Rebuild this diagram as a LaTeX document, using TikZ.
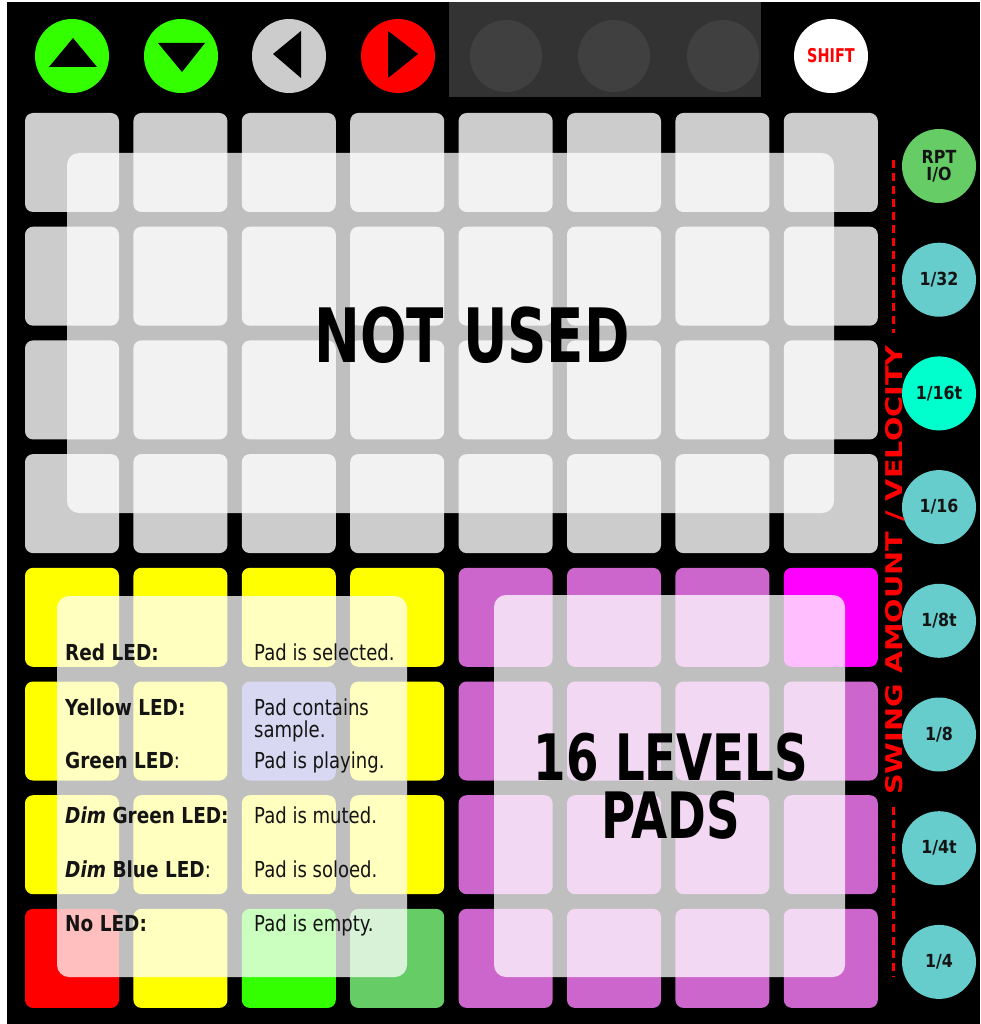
\documentclass[tikz,border=0pt]{standalone}
\usepackage{fontspec}
\setmainfont{DejaVu Sans}
\newfontfamily\bigfont{DejaVu Sans}[FakeStretch=0.73]
\newfontfamily\legR{DejaVu Sans}[FakeStretch=0.82]
\newfontfamily\legB{DejaVu Sans}[FakeStretch=0.84]
\newfontfamily\btnfont{DejaVu Sans}[FakeStretch=0.88]
\newfontfamily\shiftfont{DejaVu Sans}[FakeStretch=0.76]
\newfontfamily\vertfont{DejaVu Sans}[FakeStretch=1.25]
\definecolor{lpgray}{RGB}{204,204,204}
\definecolor{lpyellow}{RGB}{255,255,0}
\definecolor{lpgreen}{RGB}{51,255,0}
\definecolor{lpdimgreen}{RGB}{102,204,102}
\definecolor{lpred}{RGB}{255,0,0}
\definecolor{lppurple}{RGB}{204,102,204}
\definecolor{lpmagenta}{RGB}{255,0,255}
\definecolor{lpblue}{RGB}{102,102,204}
\definecolor{lpteal}{RGB}{102,204,204}
\definecolor{lpaqua}{RGB}{0,255,204}
\definecolor{lppanel}{RGB}{51,51,51}
\definecolor{lpghost}{RGB}{64,64,64}
\definecolor{lptext}{RGB}{20,20,20}
\tikzset{
  pad/.style={rectangle, rounded corners=8pt, minimum width=94pt, minimum height=99pt, inner sep=0pt, draw=none},
  topbtn/.style={circle, minimum size=74pt, inner sep=0pt, draw=none},
  sidebtn/.style={circle, minimum size=74pt, inner sep=0pt, draw=none, text=lptext,
    font=\btnfont\bfseries\fontsize{18}{19}\selectfont, align=center},
  veil/.style={fill=white, fill opacity=0.75, rounded corners=12pt},
  legleft/.style={anchor=base west, inner sep=0pt, text=lptext, font=\legB\bfseries\fontsize{22}{22}\selectfont},
  legright/.style={anchor=base west, inner sep=0pt, text=lptext, font=\legR\fontsize{22}{22}\selectfont},
  bigtext/.style={anchor=base, inner sep=0pt, text=black, font=\bigfont\bfseries\fontsize{75}{75}\selectfont},
  midtext/.style={anchor=base, inner sep=0pt, text=black, font=\bigfont\bfseries\fontsize{64}{64}\selectfont},
  reddash/.style={draw=red, dash pattern=on 8pt off 5pt, line width=3pt}
}
\begin{document}
\begin{tikzpicture}[x=1pt,y=-1pt]
\useasboundingbox (0,0) rectangle (980,1024);
\fill[white] (0,0) rectangle (980,1024);
\fill[black] (7,2) rectangle (980,1024);

% top control row
\node[topbtn, fill=lpgreen] (up) at (72,56) {};
\fill[black] (73,38) -- (49,67) -- (97,67) -- cycle;
\node[topbtn, fill=lpgreen] (down) at (181,56) {};
\fill[black] (158,43) -- (205,43) -- (182,72) -- cycle;
\node[topbtn, fill=lpgray] (left) at (289,56) {};
\fill[black] (273,54) -- (301,31) -- (301,78) -- cycle;
\node[topbtn, fill=lpred] (right) at (398,56) {};
\fill[black] (418,54) -- (388,31) -- (388,78) -- cycle;
\fill[lppanel] (449,2) rectangle (761,97);
\node[topbtn, fill=lpghost, minimum size=72pt] (s1) at (506,56) {};
\node[topbtn, fill=lpghost, minimum size=72pt] (s2) at (614,56) {};
\node[topbtn, fill=lpghost, minimum size=72pt] (s3) at (723,56) {};
\node[topbtn, fill=white, text=red, font=\shiftfont\bfseries\fontsize{19}{19}\selectfont] (shift) at (831,56) {SHIFT};

% upper pads
\foreach \r in {0,...,3}
  \foreach \c in {0,...,7}
    \node[pad, fill=lpgray] (p\r\c) at ({72+108.4*\c},{162.5+113.7*\r}) {};
% lower left pads
\foreach \r in {4,5,6}
  \foreach \c in {0,...,3}{
    \def\padcol{lpyellow}
    \ifnum\r\c=52 \def\padcol{lpblue}\fi
    \node[pad, fill=\padcol] (p\r\c) at ({72+108.4*\c},{162.5+113.7*\r}) {};
  }
\foreach \c/\padcol in {0/lpred,1/lpyellow,2/lpgreen,3/lpdimgreen}
  \node[pad, fill=\padcol] (p7\c) at ({72+108.4*\c},{162.5+113.7*7}) {};
% lower right pads
\foreach \r in {4,...,7}
  \foreach \c in {4,...,7}{
    \def\padcol{lppurple}
    \ifnum\r\c=47 \def\padcol{lpmagenta}\fi
    \node[pad, fill=\padcol] (p\r\c) at ({72+108.4*\c},{162.5+113.7*\r}) {};
  }

% side buttons
\node[sidebtn, fill=lpdimgreen] (rpt) at (939,166) {RPT\\[-2pt]I/O};
\node[sidebtn, fill=lpteal] (b32) at (939,279.7) {1/32};
\node[sidebtn, fill=lpaqua] (b16t) at (939,393.4) {1/16t};
\node[sidebtn, fill=lpteal] (b16) at (939,507.1) {1/16};
\node[sidebtn, fill=lpteal] (b8t) at (939,620.8) {1/8t};
\node[sidebtn, fill=lpteal] (b8) at (939,734.5) {1/8};
\node[sidebtn, fill=lpteal] (b4t) at (939,848.2) {1/4t};
\node[sidebtn, fill=lpteal] (b4) at (939,961.9) {1/4};

% vertical label and dashes
\node[rotate=90, anchor=base, inner sep=0pt, text=red, font=\vertfont\bfseries\fontsize{23}{23}\selectfont] (swing) at (902,570) {SWING AMOUNT / VELOCITY};
\coordinate (dt1) at (893,160);
\coordinate (dt2) at (893,333);
\coordinate (db1) at (893,807);
\coordinate (db2) at (893,977);
\draw[reddash] (dt1) -- (dt2);
\draw[reddash] (db1) -- (db2);

% veils
\fill[veil] (67,153) rectangle (834,513);
\fill[veil] (57,596) rectangle (407,977);
\fill[veil] (494,595) rectangle (845,977);

% texts
\node[bigtext] (notused) at (472,362) {NOT USED};
\node[midtext] (levels) at (671,780) {16 LEVELS};
\node[midtext] (pads) at (671,838) {PADS};

\node[legleft] (l1) at (65,660) {Red LED:};
\node[legleft] (l2) at (65,715) {Yellow LED:};
\node[legleft] (l3) at (65,768) {Green LED\legR\mdseries:};
\node[legleft] (l4) at (65,823) {\itshape Dim\upshape\ Green LED:};
\node[legleft] (l5) at (65,877) {\itshape Dim\upshape\ Blue LED\legR\mdseries:};
\node[legleft] (l6) at (65,931) {No LED:};

\node[legright] (r1) at (254,660) {Pad is selected.};
\node[legright] (r2) at (254,715) {Pad contains};
\node[legright] (r2b) at (254,737) {sample.};
\node[legright] (r3) at (254,768) {Pad is playing.};
\node[legright] (r4) at (254,823) {Pad is muted.};
\node[legright] (r5) at (254,877) {Pad is soloed.};
\node[legright] (r6) at (254,931) {Pad is empty.};
\end{tikzpicture}
\end{document}
